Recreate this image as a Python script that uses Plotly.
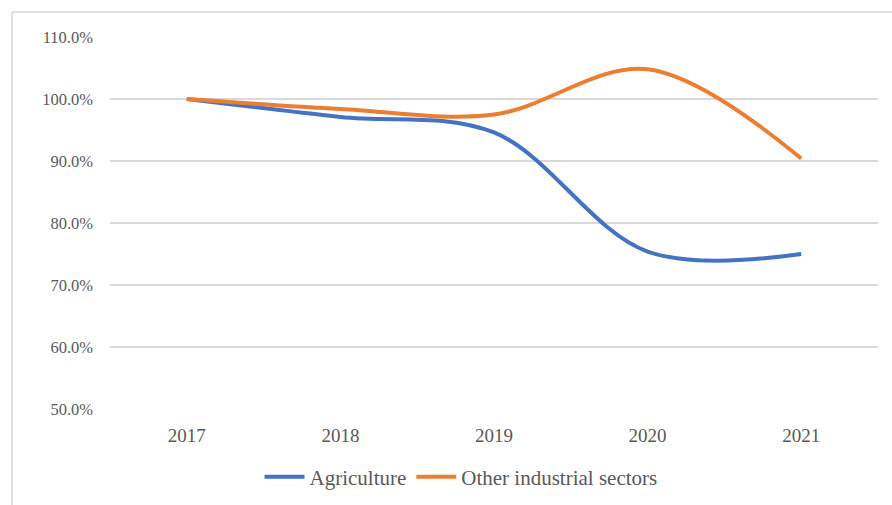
import plotly.graph_objects as go

years = ["2017", "2018", "2019", "2020", "2021"]
agriculture = [100.0, 97.1, 94.6, 75.4, 75.0]
other_sectors = [100.0, 98.4, 97.5, 104.8, 90.4]

font_family = "Liberation Serif"
text_color = "#595959"

fig = go.Figure()
fig.add_trace(go.Scatter(x=years, y=agriculture, name="Agriculture", mode="lines",
                         line=dict(color="#4472C4", width=4, shape="spline", smoothing=1)))
fig.add_trace(go.Scatter(x=years, y=other_sectors, name="Other industrial sectors", mode="lines",
                         line=dict(color="#ED7D31", width=4, shape="spline", smoothing=1)))

L, R, T, B = 110, 14, 37, 96
W, H = 892, 505
pw, ph = W - L - R, H - T - B

def px(x):
    return (x - L) / pw

def py(y):
    return (H - B - y) / ph

fig.update_layout(
    width=W, height=H,
    margin=dict(l=L, r=R, t=T, b=B, autoexpand=False),
    paper_bgcolor="white", plot_bgcolor="white",
    font=dict(family=font_family, size=16, color=text_color),
    showlegend=True,
    legend=dict(orientation="h", xref="container", yref="container",
                x=461 / W, xanchor="center", y=(H - 477) / H, yanchor="middle",
                font=dict(family=font_family, size=21, color=text_color),
                itemwidth=40, tracegroupgap=0),
    xaxis=dict(type="category", range=[-0.5, 4.5], showgrid=False, zeroline=False,
               showline=False, ticks="", ticklabelstandoff=13, automargin=False,
               tickfont=dict(family=font_family, size=19)),
    yaxis=dict(range=[50, 110], dtick=10, tick0=50, tickformat=".1f", ticksuffix="%",
               showgrid=True, gridcolor="#d9d9d9", gridwidth=1.5, zeroline=False,
               showline=False, ticks="", ticklabelstandoff=16, automargin=False,
               tickfont=dict(family=font_family, size=16.5)),
    shapes=[
        dict(type="line", xref="paper", yref="paper", x0=px(12), x1=px(900), y0=py(12), y1=py(12),
             line=dict(color="#d9d9d9", width=1.5)),
        dict(type="line", xref="paper", yref="paper", x0=px(12), x1=px(12), y0=py(12), y1=py(510),
             line=dict(color="#d9d9d9", width=1.5)),
    ],
)

fig.write_html("out.html")
